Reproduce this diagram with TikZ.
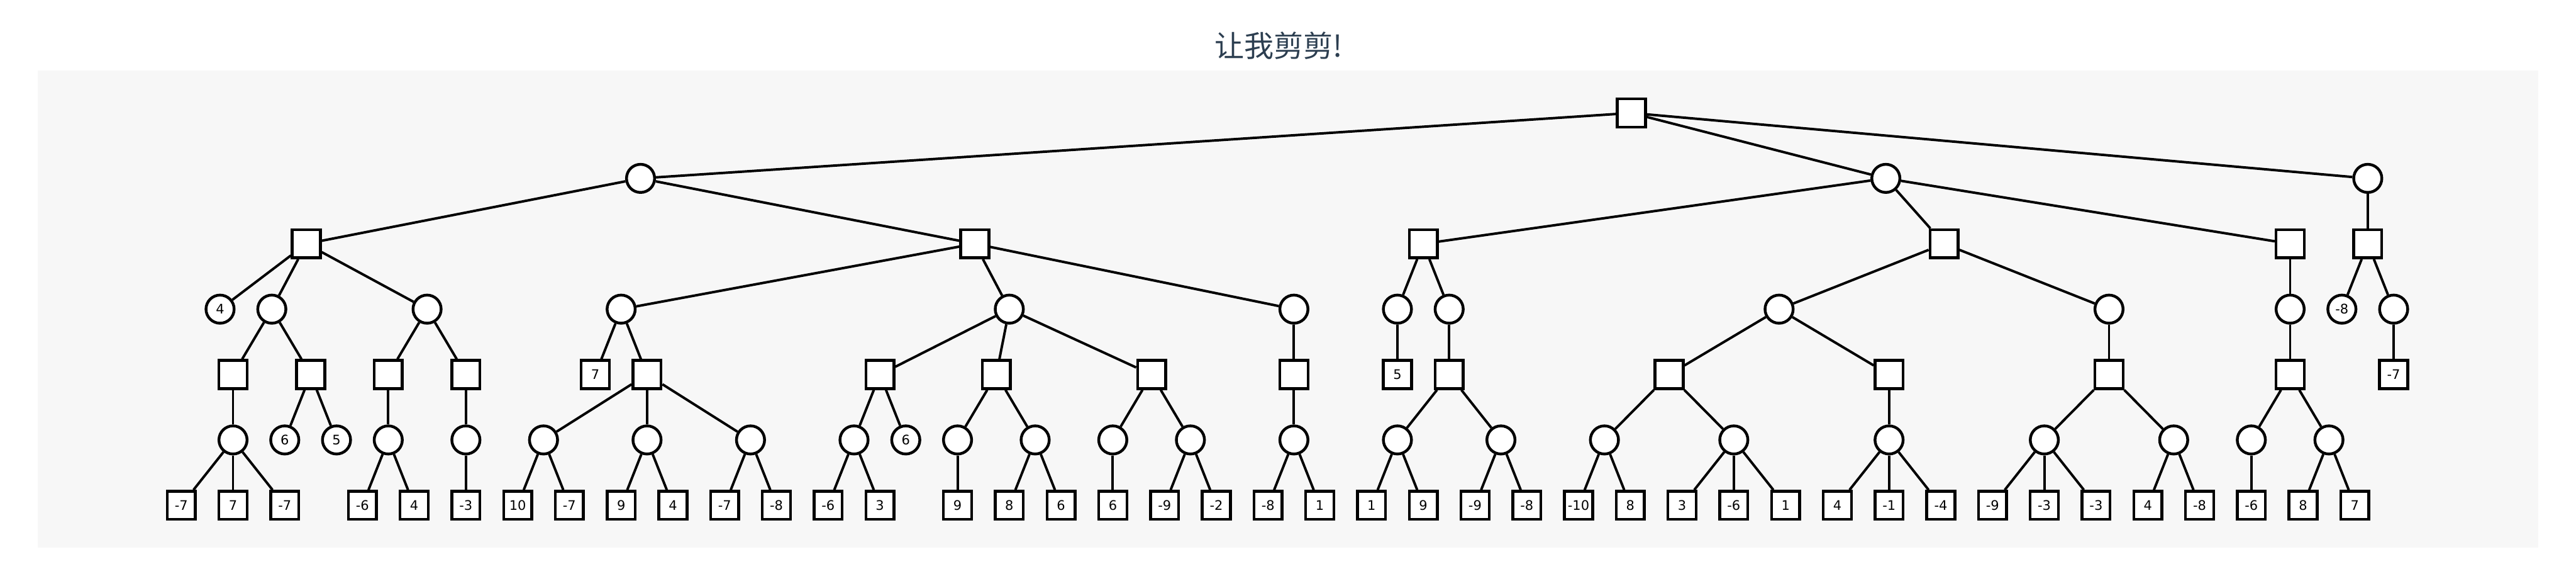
\documentclass[tikz,border=0pt]{standalone}
\usepackage{fontspec}
\setmainfont{DejaVu Sans}
\newfontfamily\cjkfont{Noto Sans CJK SC}
\usepackage{tikz}
\definecolor{cPanel}{HTML}{F7F7F7}
\definecolor{cTitle}{HTML}{2C3E50}
\tikzset{
  maxnode/.style={draw=black,fill=white,line width=1.7pt,minimum size=6mm,inner sep=0pt,font=\fontsize{8}{9}\selectfont},
  minnode/.style={maxnode,circle},
  tline/.style={line width=1.5pt,black},
}

\begin{document}
\begin{tikzpicture}[x=5.525mm,y=-13.95mm]
  \useasboundingbox (-7.005,-1.728) rectangle (92.548,7.233);
  \fill[cPanel] (-5.556,-0.652) rectangle (91.09,6.645);
  \node[font=\cjkfont\fontsize{18}{20}\selectfont,text=cTitle] (title) at (42.41,-1.03) {让我剪剪!};
  % root and level 1
  \node[maxnode] (r) at (56.04,0) {};
  \foreach \n/\x/\p in {a1/17.75/r, a2/65.875/r, a3/84.5/r}{
    \node[minnode] (\n) at (\x,1) {}; \draw[tline] (\p) -- (\n);}
  % level 2
  \foreach \n/\x/\p in {b1/4.833/a1, b2/30.667/a1, b3/48/a2, b4/68.125/a2, b5/81.5/a2, b6/84.5/a3}{
    \node[maxnode] (\n) at (\x,2) {}; \draw[tline] (\p) -- (\n);}
  % level 3
  \foreach \n/\x/\p/\v in {c1/1.5/b1/4, c2/3.5/b1/{}, c3/9.5/b1/{}, c4/17/b2/{}, c5/32/b2/{}, c6/43/b2/{},
      c7/47/b3/{}, c8/49/b3/{}, c9/61.75/b4/{}, c10/74.5/b4/{}, c11/81.5/b5/{}, c12/83.5/b6/-8, c13/85.5/b6/{}}{
    \node[minnode] (\n) at (\x,3) {\v}; \draw[tline] (\p) -- (\n);}
  % level 4
  \foreach \n/\x/\p/\v in {d1/2/c2/{}, d2/5/c2/{}, d3/8/c3/{}, d4/11/c3/{}, d5/16/c4/7, d6/18/c4/{},
      d7/27/c5/{}, d8/31.5/c5/{}, d9/37.5/c5/{}, d10/43/c6/{}, d11/47/c7/5, d12/49/c8/{},
      d13/57.5/c9/{}, d14/66/c9/{}, d15/74.5/c10/{}, d16/81.5/c11/{}, d17/85.5/c13/-7}{
    \node[maxnode] (\n) at (\x,4) {\v}; \draw[tline] (\p) -- (\n);}
  % level 5
  \foreach \n/\x/\p/\v in {e1/2/d1/{}, e2/4/d2/6, e3/6/d2/5, e4/8/d3/{}, e5/11/d4/{}, e6/14/d6/{},
      e7/18/d6/{}, e8/22/d6/{}, e9/26/d7/{}, e10/28/d7/6, e11/30/d8/{}, e12/33/d8/{},
      e13/36/d9/{}, e14/39/d9/{}, e15/43/d10/{}, e16/47/d12/{}, e17/51/d12/{}, e18/55/d13/{},
      e19/60/d13/{}, e20/66/d14/{}, e21/72/d15/{}, e22/77/d15/{}, e23/80/d16/{}, e24/83/d16/{}}{
    \node[minnode] (\n) at (\x,5) {\v}; \draw[tline] (\p) -- (\n);}
  % leaves
  \foreach \n/\x/\p/\v in {f1/0/e1/-7, f2/2/e1/7, f3/4/e1/-7, f4/7/e4/-6, f5/9/e4/4, f6/11/e5/-3,
      f7/13/e6/10, f8/15/e6/-7, f9/17/e7/9, f10/19/e7/4, f11/21/e8/-7, f12/23/e8/-8,
      f13/25/e9/-6, f14/27/e9/3, f15/30/e11/9, f16/32/e12/8, f17/34/e12/6, f18/36/e13/6,
      f19/38/e14/-9, f20/40/e14/-2, f21/42/e15/-8, f22/44/e15/1, f23/46/e16/1, f24/48/e16/9,
      f25/50/e17/-9, f26/52/e17/-8, f27/54/e18/-10, f28/56/e18/8, f29/58/e19/3, f30/60/e19/-6,
      f31/62/e19/1, f32/64/e20/4, f33/66/e20/-1, f34/68/e20/-4, f35/70/e21/-9, f36/72/e21/-3,
      f37/74/e21/-3, f38/76/e22/4, f39/78/e22/-8, f40/80/e23/-6, f41/82/e24/8, f42/84/e24/7}{
    \node[maxnode] (\n) at (\x,6) {\v}; \draw[tline] (\p) -- (\n);}
\end{tikzpicture}
\end{document}
